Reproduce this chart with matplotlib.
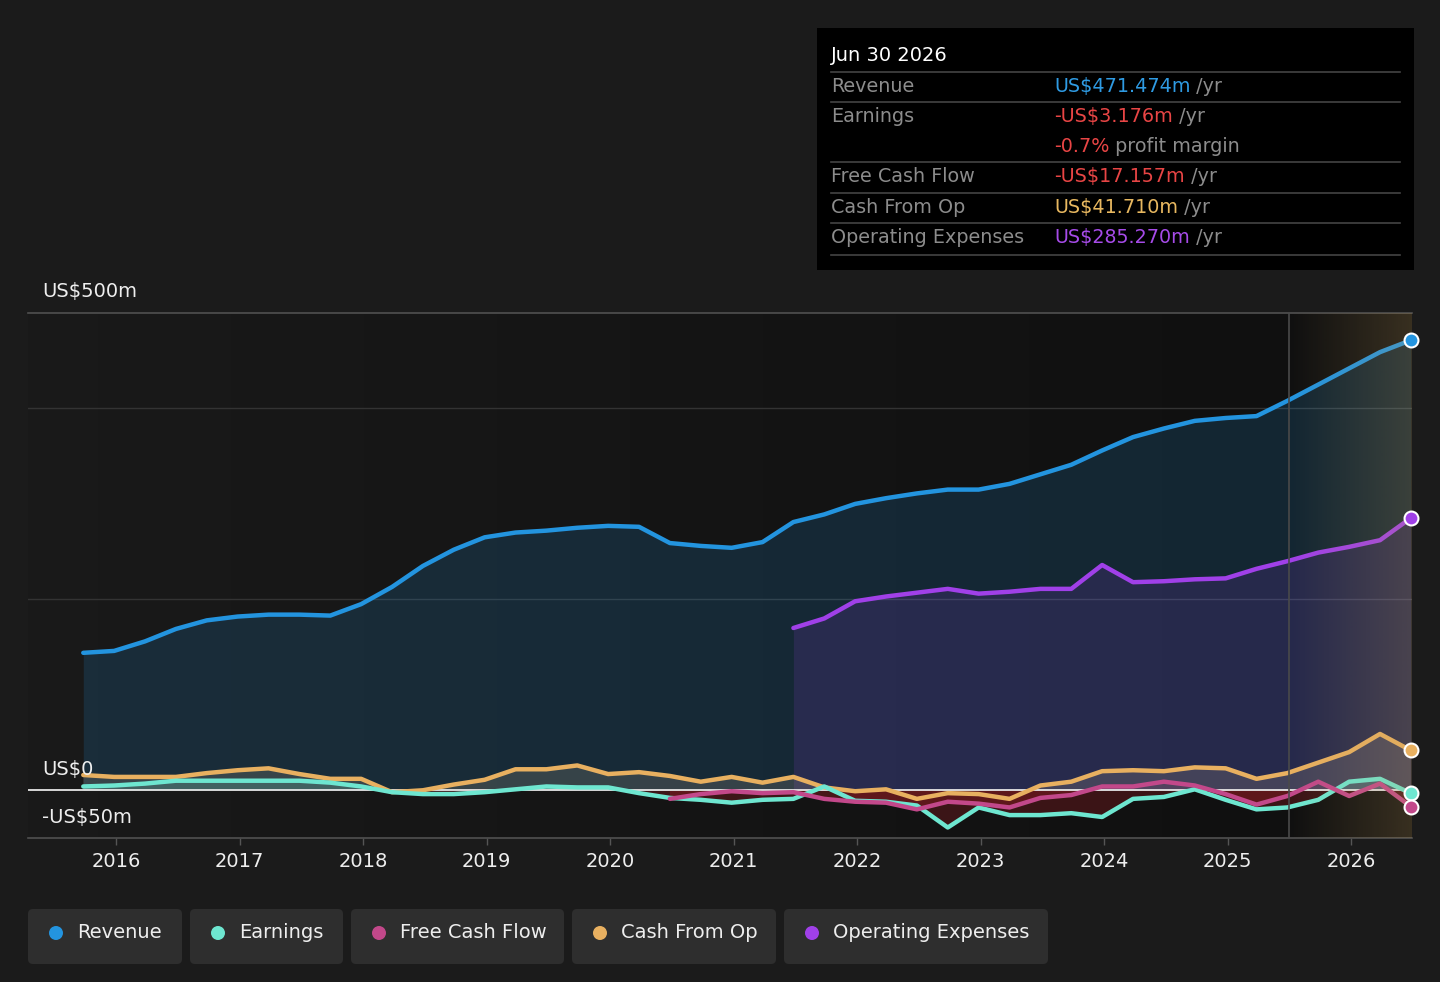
import matplotlib
matplotlib.use("Agg")
import matplotlib.pyplot as plt
from matplotlib.patches import Rectangle, FancyBboxPatch, Circle
import numpy as np

# quarterly data, decimal years (quarter end dates, roughly)
quarters = np.arange(2015.75, 2026.51, 0.25) - 0.015

revenue = [144, 146, 156, 169, 178,
           182, 184, 184, 183,
           195, 213, 235, 252,
           265, 270, 272, 275,
           277, 276, 259, 256,
           254, 260, 281, 289,
           300, 306, 311, 315,
           315, 321, 331, 341,
           356, 370, 379, 387,
           390, 392, 408, 425,
           442, 459, 471.474]

earnings = [4, 5, 7, 10, 10,
            10, 10, 10, 8,
            4, -2, -4, -4,
            -2, 1, 4, 3,
            3, -3, -8, -10,
            -13, -10, -9, 4,
            -11, -12, -16, -39,
            -18, -26, -26, -24,
            -28, -9, -7, 1,
            -10, -20, -18, -10,
            9, 12, -3.176]

cash_from_op = [16, 14, 14, 14, 18,
                21, 23, 17, 12,
                12, -2, 0, 6,
                11, 22, 22, 26,
                17, 19, 15, 9,
                14, 8, 14, 3,
                -1, 1, -9, -3,
                -4, -9, 5, 9,
                20, 21, 20, 24,
                23, 12, 18, 29,
                40, 59, 41.71]

# free cash flow starts 2020.5
fcf_start = 19
free_cash_flow = [-9, -4,
                  -1, -3, -2, -9,
                  -12, -13, -20, -12,
                  -14, -18, -8, -5,
                  4, 4, 9, 5,
                  -4, -15, -6, 9,
                  -6, 7, -17.157]

# operating expenses start 2021.5
opex_start = 23
op_expenses = [170, 180,
               198, 203, 207, 211,
               206, 208, 211, 211,
               236, 218, 219, 221,
               222, 232, 240, 249,
               255, 262, 285.27]

forecast_start = 2025.5
years = list(range(2016, 2027))

BLUE = "#2394df"
TEAL = "#6ee6d0"
PINK = "#c2488a"
ORANGE = "#e8b060"
PURPLE = "#a040e8"
RED = "#8a1c22"
BG = "#1b1b1b"
FS = 14

W, H = 1440, 982
fig = plt.figure(figsize=(W / 100, H / 100), dpi=100, facecolor=BG)

x0, x1 = 28, 1412
ytop, ybot = 313, 838
ax = fig.add_axes([x0 / W, (H - ybot) / H, (x1 - x0) / W, (ybot - ytop) / H])
ax.set_facecolor("#111111")

xmin = 2016 + (x0 - 116) / 123.5
xmax = 2016 + (x1 - 116) / 123.5

# background gradient (past part)
g = np.linspace(0.10, 0.063, 200)
ax.imshow(np.dstack([g, g, g]).reshape(1, -1, 3), extent=[xmin, forecast_start, -50, 500],
          aspect="auto", zorder=0, interpolation="bilinear")
ax.add_patch(Rectangle((forecast_start, -50), xmax - forecast_start, 550,
                       facecolor="#101010", edgecolor="none", zorder=0))

# grid lines
for v in [400, 200]:
    ax.axhline(v, color="#333333", lw=1, zorder=1)

q = quarters
rev = np.array(revenue)
ear = np.array(earnings)
cfo = np.array(cash_from_op)
q_fcf = q[fcf_start:]
fcf = np.array(free_cash_flow)
q_opx = q[opex_start:]
opx = np.array(op_expenses)

# fills
ax.fill_between(q, 0, rev, color=BLUE, alpha=0.17, lw=0, zorder=2)
ax.fill_between(q_opx, 0, opx, color=PURPLE, alpha=0.14, lw=0, zorder=2)
ax.fill_between(q, 0, cfo, where=cfo >= 0, interpolate=True, color="#c8b89a", alpha=0.18, lw=0, zorder=2)
ax.fill_between(q, 0, ear, where=ear >= 0, interpolate=True, color=TEAL, alpha=0.18, lw=0, zorder=2)
ax.fill_between(q, 0, ear, where=ear <= 0, interpolate=True, color=RED, alpha=0.35, lw=0, zorder=2)
ax.fill_between(q_fcf, 0, fcf, where=fcf <= 0, interpolate=True, color=RED, alpha=0.45, lw=0, zorder=2)
ax.fill_between(q_fcf, 0, fcf, where=fcf >= 0, interpolate=True, color=PINK, alpha=0.12, lw=0, zorder=2)

ax.axhline(0, color="#e6e6e6", lw=1.3, zorder=3)

lw = 3.2
style = dict(lw=lw, zorder=4, solid_capstyle="round", solid_joinstyle="round")
ax.plot(q, rev, color=BLUE, **style)
ax.plot(q_opx, opx, color=PURPLE, **style)
ax.plot(q, cfo, color=ORANGE, **style)
ax.plot(q, ear, color=TEAL, **style)
ax.plot(q_fcf, fcf, color=PINK, **style)

# forecast overlay
alpha = np.linspace(0.0, 0.22, 100)
ov_img = np.zeros((1, 100, 4))
ov_img[..., 0] = 200 / 255
ov_img[..., 1] = 160 / 255
ov_img[..., 2] = 90 / 255
ov_img[..., 3] = alpha
ax.imshow(ov_img, extent=[forecast_start, xmax, -50, 500], aspect="auto",
          zorder=5, interpolation="bilinear")
ax.axvline(forecast_start, color="#4a4a4a", lw=1.2, zorder=5)

# end markers
for series, col in [(rev, BLUE), (opx, PURPLE), (cfo, ORANGE), (ear, TEAL), (fcf, PINK)]:
    ax.plot(q[-1], series[-1], "o", ms=10, mfc=col, mec="white", mew=1.5, zorder=7, clip_on=False)

ax.set_xlim(xmin, xmax)
ax.set_ylim(-50, 500)
ax.set_yticks([])
ax.set_xticks(years)
ax.set_xticklabels([str(y) for y in years], color="#eeeeee", fontsize=FS)
ax.tick_params(axis="x", colors="#555555", length=5, width=1, pad=5, labelcolor="#eeeeee")
for s in ["left", "right"]:
    ax.spines[s].set_visible(False)
for s in ["top", "bottom"]:
    ax.spines[s].set_color("#505050")
    ax.spines[s].set_linewidth(1.2)

# overlay in pixel coordinates
ov = fig.add_axes([0, 0, 1, 1])
ov.set_xlim(0, W)
ov.set_ylim(H, 0)
ov.axis("off")
ov.patch.set_alpha(0)

ov.text(42, 291, "US$500m", color="#eeeeee", fontsize=FS, va="center")
ov.text(42, 769, "US$0", color="#eeeeee", fontsize=FS, va="center")
ov.text(42, 818, "-US$50m", color="#eeeeee", fontsize=FS, va="center")

# tooltip
ov.add_patch(Rectangle((817, 28), 597, 242, facecolor="#000000", edgecolor="none"))
ov.text(831, 55, "Jun 30 2026", color="white", fontsize=FS, va="center")
for yy in [72, 102, 162, 193, 223, 255]:
    ov.plot([831, 1400], [yy, yy], color="#444444", lw=1.2)

LABEL = "#8c8c8c"
TFS = 13.8
rows = [
    (86, "Revenue", "US$471.474m", "#2f9be3", " /yr"),
    (116, "Earnings", "-US$3.176m", "#e84545", " /yr"),
    (146, "", "-0.7%", "#e84545", " profit margin"),
    (176, "Free Cash Flow", "-US$17.157m", "#e84545", " /yr"),
    (207, "Cash From Op", "US$41.710m", "#e8b860", " /yr"),
    (237, "Operating Expenses", "US$285.270m", "#a64be8", " /yr"),
]
for yy, lab, val, col, suf in rows:
    if lab:
        ov.text(831, yy, lab, color=LABEL, fontsize=TFS, va="center")
    t = ov.text(1054, yy, val, color=col, fontsize=TFS, va="center")
    ov.annotate(suf, xy=(1, 0.5), xycoords=t, va="center", ha="left",
                color=LABEL, fontsize=TFS)

# legend
legend_items = [("Revenue", BLUE, 28, 182), ("Earnings", TEAL, 190, 343),
                ("Free Cash Flow", PINK, 351, 564), ("Cash From Op", ORANGE, 572, 776),
                ("Operating Expenses", PURPLE, 784, 1048)]
for name, col, lx0, lx1 in legend_items:
    ov.add_patch(FancyBboxPatch((lx0, 909), lx1 - lx0, 55,
                                boxstyle="round,pad=0,rounding_size=5",
                                facecolor="#2e2e2e", edgecolor="none"))
    ov.add_patch(Circle((lx0 + 28, 933), 7, facecolor=col, edgecolor="none"))
    ov.text(lx0 + 49, 933, name, color="#eeeeee", fontsize=FS, va="center")

fig.savefig("out.png", dpi=100, facecolor=BG)
